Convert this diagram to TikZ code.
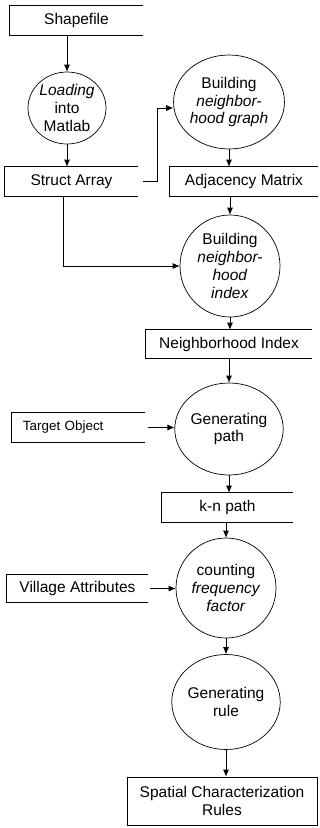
\documentclass[tikz,border=0pt]{standalone}
\usepackage{fontspec}
\setmainfont{Liberation Sans}
\usetikzlibrary{shapes.geometric, arrows.meta}

\tikzset{
  store/.style={minimum height=29pt, inner sep=0pt},
  proc/.style={draw, ellipse, inner sep=0pt, align=center},
  flow/.style={-{Latex[length=7pt,width=6pt]}},
}

\begin{document}
\begin{tikzpicture}[x=1pt, y=-1pt, line width=0.7pt, every node/.style={font=\fontsize{15.5}{17.7}\selectfont}]
    \useasboundingbox (0,0) rectangle (320,828);
    % data stores and processes
    \node[store, minimum width=133pt] (shp) at (76.5,20) {Shapefile};
    \node[proc, minimum width=74pt, minimum height=72pt] (load) at (67,108) {\textit{Loading}\\into\\Matlab};
    \node[store, minimum width=133pt] (sa) at (71.5,181.5) {Struct Array};
    \node[proc, minimum width=102pt, minimum height=94pt] (graph) at (229,102) {Building\\\textit{neighbor-}\\\textit{hood graph}};
    \node[store, minimum width=148pt] (adj) at (244,181.5) {Adjacency Matrix};
    \node[proc, minimum width=100pt, minimum height=102pt] (index) at (230,266) {Building\\\textit{neighbor-}\\\textit{hood}\\\textit{index}};
    \node[store, minimum width=166pt, minimum height=28pt] (ni) at (229,344) {Neighborhood Index};
    \node[proc, minimum width=102pt, minimum height=92pt] (gpath) at (229,429) {Generating\\path};
    \node[store, text width=111pt, align=left, inner xsep=11pt, font=\fontsize{13.4}{15}\selectfont] (tgt) at (78.5,427.5) {Target Object};
    \node[store, minimum width=131pt] (knp) at (227.5,507.5) {k-n path};
    \node[proc, minimum width=100pt, minimum height=100pt] (count) at (226,588) {counting\\\textit{frequency}\\\textit{factor}};
    \node[store, minimum width=141pt, minimum height=27pt] (vil) at (77.5,588.5) {Village Attributes};
    \node[proc, minimum width=100pt, minimum height=95pt] (rule) at (226,702) {Generating\\rule};
    \node[draw, minimum width=190pt, minimum height=48pt, align=center] (scr) at (222,801) {Spatial Characterization\\Rules};
    % open-ended store outlines
    \foreach \s in {shp,sa,adj,ni,tgt,knp,vil}
        \draw (\s.north east) -- (\s.north west) -- (\s.south west) -- (\s.south east);
    % flows
    \draw[flow] (load.north |- shp.south) -- (load);
    \draw[flow] (load) -- (load |- sa.north);
    \draw[flow] ([xshift=5pt]sa.east) -- ++(14,0) |- ([yshift=-6pt]graph.west);
    \draw[flow] (graph) -- (graph |- adj.north);
    \draw[flow] (index |- adj.south) -- (index);
    \draw[flow] ([xshift=-8pt]sa.south) |- (index);
    \draw[flow] (index) -- (index |- ni.north);
    \draw[flow] (gpath |- ni.south) -- (gpath);
    \draw[flow] ([xshift=3pt]tgt.east) -- (tgt.east -| gpath.west);
    \draw[flow] (gpath) -- (gpath |- knp.north);
    \draw[flow] (count |- knp.south) -- (count);
    \draw[flow] ([xshift=2pt]vil.east) -- (vil.east -| count.west);
    \draw[flow] (count) -- (rule);
    \draw[flow] (rule) -- (rule |- scr.north);
\end{tikzpicture}
\end{document}
